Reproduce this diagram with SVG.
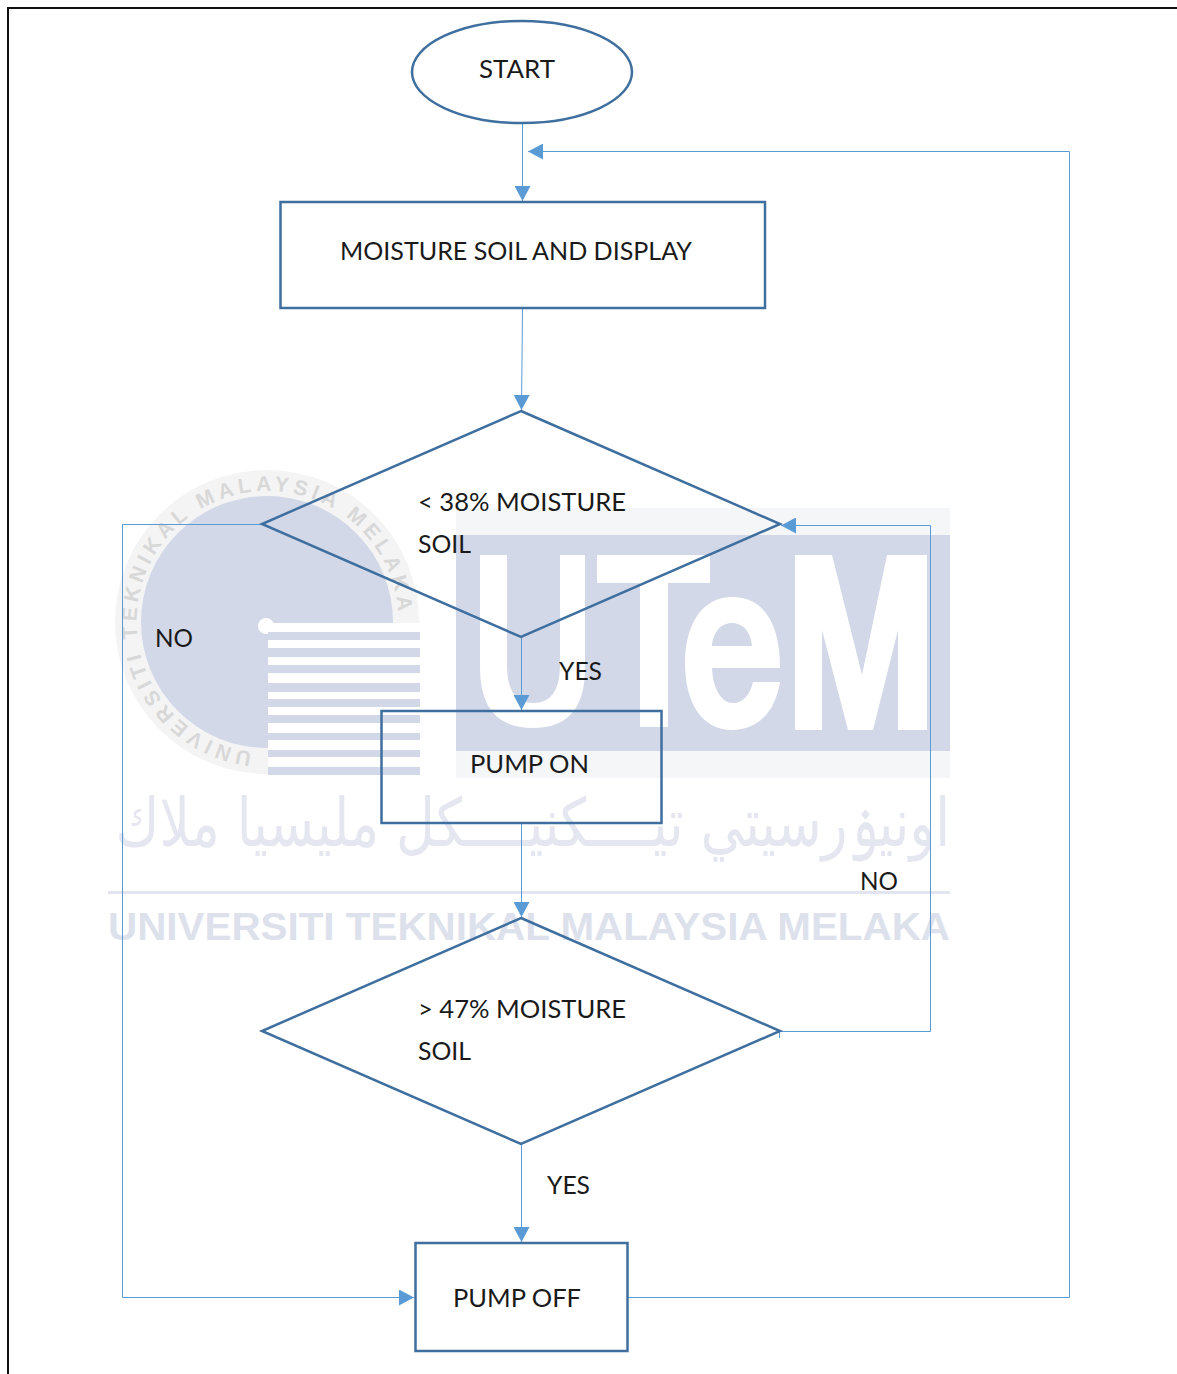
<svg xmlns="http://www.w3.org/2000/svg" width="1177" height="1374" viewBox="0 0 1177 1374">
<style>
.n{fill:none;stroke:#3f6f9f;stroke-width:2.5}
.c{fill:none;stroke:#5b9bd5;stroke-width:1}
.t{font-family:Lato,"Liberation Sans",sans-serif;font-size:25.500px;fill:#1a1a1a}
.wm{fill:#d2d8e8}
.w{fill:#fff}
</style>
<defs>
<marker id="a" markerUnits="userSpaceOnUse" markerWidth="16" markerHeight="16" refX="15" refY="8" orient="auto"><path d="M0 0L15 8L0 16Z" fill="#5b9bd5"/></marker>
<path id="arc" d="M252 752A131 131 0 1 1 398 610"/>
</defs>
<rect width="1177" height="1374" fill="#fff"/>
<g id="watermark">
<circle cx="267" cy="622" r="152" fill="#f4f4f4"/>
<circle cx="267" cy="622" r="126" class="wm"/>
<rect x="268" y="623" width="160" height="160" class="w"/>
<text font-family="'Liberation Sans',sans-serif" font-weight="700" font-size="21" fill="#d8d8d8" letter-spacing="4.500"><textPath href="#arc">UNIVERSITI TEKNIKAL MALAYSIA MELAKA</textPath></text>
<rect x="268" y="623" width="152" height="9" class="w"/>
<circle cx="266" cy="626" r="8" fill="#fff"/>
<g class="wm">
<rect x="268" y="632" width="152" height="8"/><rect x="268" y="648" width="152" height="9"/><rect x="268" y="665" width="152" height="8"/><rect x="268" y="683" width="152" height="9"/><rect x="268" y="699" width="152" height="8"/><rect x="268" y="715" width="152" height="8"/><rect x="268" y="733" width="152" height="7"/><rect x="268" y="750" width="152" height="7"/><rect x="268" y="767" width="152" height="8"/>
</g>
<rect x="456" y="508" width="494" height="270" fill="#f5f6f7"/>
<rect x="456" y="535" width="494" height="216" class="wm"/>
<path class="w" d="M480 555H507V665Q507 703 533 703Q560 703 560 665V555H585V668Q585 728 533 728Q480 728 480 668Z"/>
<path class="w" d="M597 555H710V583H668V727H640V583H597Z"/>
<path class="w" fill-rule="evenodd" d="M732 597C765 597 780 625 780 668H712C713 690 722 703 733 703C743 703 750 695 753 682L780 682C775 712 758 730 732 730C702 730 685 703 685 663C685 625 702 597 732 597ZM712 646H752C751 632 743 623 732 623C721 623 713 632 712 646Z"/>
<path class="w" d="M795 555H832L862 675L887 555H927V730H898V630L873 730H848L822 630V730H795Z"/>
<text transform="translate(950 846) scale(.92 1.15)" font-family="'DejaVu Sans',sans-serif" font-size="58" fill="#e4e7f0" direction="rtl">اونيۏرسيتي تيــــكنيــــكل مليسيا ملاك</text>
<rect x="108" y="891" width="842" height="3" fill="#e2e5ef"/>
<text x="108" y="940" font-family="'Liberation Sans',sans-serif" font-weight="700" font-size="38" fill="#dde1ec" textLength="842" lengthAdjust="spacingAndGlyphs">UNIVERSITI TEKNIKAL MALAYSIA MELAKA</text>
</g>
<polyline points="8,1374 8,8 1177,8" fill="none" stroke="#111" stroke-width="2"/>
<g id="connectors">
<path class="c" marker-end="url(#a)" d="M522.500 123V201"/>
<path class="c" marker-end="url(#a)" d="M522.500 308L521.500 410"/>
<path class="c" marker-end="url(#a)" d="M521.500 637V710"/>
<path class="c" marker-end="url(#a)" d="M521.500 823V917"/>
<path class="c" marker-end="url(#a)" d="M521.500 1144V1242"/>
<path class="c" marker-end="url(#a)" d="M262 524.500H122.500V1297.500H414"/>
<path class="c" marker-end="url(#a)" d="M628 1297.500H1069.500V151.500H528"/>
<path class="c" marker-end="url(#a)" d="M779.500 1038V1031.500H930.500V525.500H781"/>
</g>
<g id="start"><ellipse class="n" cx="522" cy="72" rx="110" ry="51"/><text class="t" x="479" y="78" textLength="76" lengthAdjust="spacingAndGlyphs">START</text></g>
<g id="moisture"><rect class="n" x="280.500" y="202" width="484.500" height="106"/><text class="t" x="340" y="260" textLength="352" lengthAdjust="spacingAndGlyphs">MOISTURE SOIL AND DISPLAY</text></g>
<g id="decision1"><polygon class="n" points="521,411 780,524 521,637 262,524"/><text class="t" x="418" y="511" textLength="208" lengthAdjust="spacingAndGlyphs">&lt; 38% MOISTURE</text><text class="t" x="418" y="553" textLength="53" lengthAdjust="spacingAndGlyphs">SOIL</text></g>
<g id="pumpon"><rect class="n" x="381.500" y="711" width="280" height="112"/><text class="t" x="470" y="773" textLength="119" lengthAdjust="spacingAndGlyphs">PUMP ON</text></g>
<g id="decision2"><polygon class="n" points="521,918 780,1031 521,1144 262,1031"/><text class="t" x="418" y="1018" textLength="208" lengthAdjust="spacingAndGlyphs">&gt; 47% MOISTURE</text><text class="t" x="418" y="1060" textLength="53" lengthAdjust="spacingAndGlyphs">SOIL</text></g>
<g id="pumpoff"><rect class="n" x="415.500" y="1243" width="212" height="108"/><text class="t" x="453" y="1307" textLength="128" lengthAdjust="spacingAndGlyphs">PUMP OFF</text></g>
<g id="labels"><text class="t" x="155" y="647" textLength="38" lengthAdjust="spacingAndGlyphs">NO</text><text class="t" x="559" y="680" textLength="43" lengthAdjust="spacingAndGlyphs">YES</text><text class="t" x="860" y="890" textLength="38" lengthAdjust="spacingAndGlyphs">NO</text><text class="t" x="547" y="1194" textLength="43" lengthAdjust="spacingAndGlyphs">YES</text></g>
</svg>
